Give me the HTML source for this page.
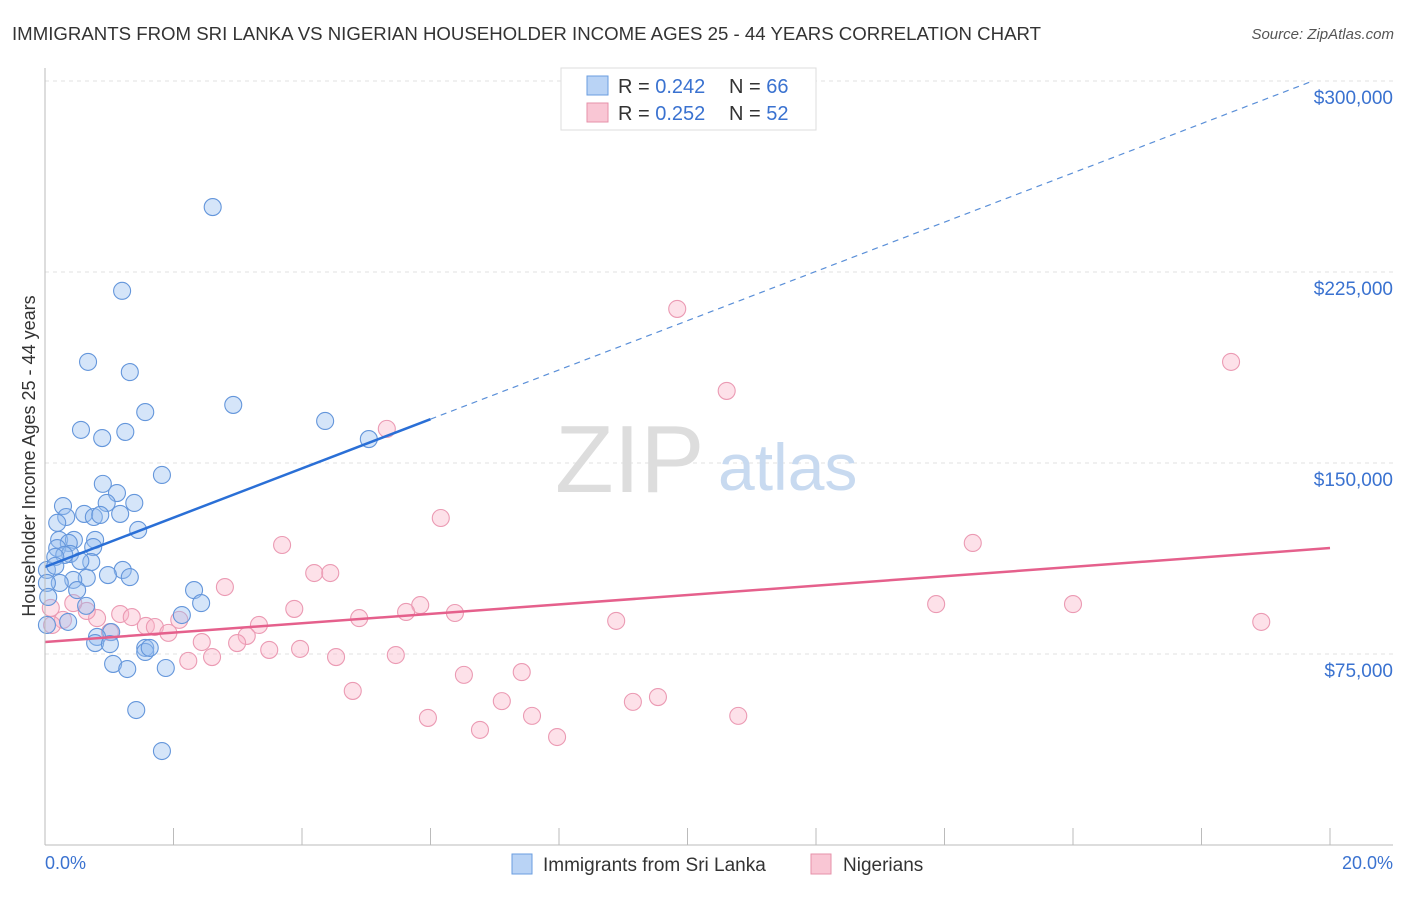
<!DOCTYPE html>
<html><head><meta charset="utf-8"><style>
body{margin:0;background:#fff;font-family:"Liberation Sans",sans-serif;}
svg text{font-family:"Liberation Sans",sans-serif;}
</style></head><body>
<svg width="1406" height="892" viewBox="0 0 1406 892">
<text x="12" y="40" font-size="18" fill="#333" textLength="1029" lengthAdjust="spacingAndGlyphs">IMMIGRANTS FROM SRI LANKA VS NIGERIAN HOUSEHOLDER INCOME AGES 25 - 44 YEARS CORRELATION CHART</text>
<text x="1394" y="39" font-size="15" fill="#555" font-style="italic" text-anchor="end">Source: ZipAtlas.com</text>
<text x="35" y="456" font-size="18" fill="#333" text-anchor="middle" transform="rotate(-90 35 456)">Householder Income Ages 25 - 44 years</text>
<g id="grid"></g>
<text x="555" y="492" font-size="96" fill="#ddd" font-family="Liberation Serif">ZIP</text>
<text x="718" y="490" font-size="66" fill="#c8daf0">atlas</text>
<g id="pts"></g>
<g id="lines"></g>
<line x1="45" y1="68" x2="45" y2="845" stroke="#bbb"/>
<line x1="45" y1="845" x2="1393" y2="845" stroke="#bbb"/>
<text x="45" y="869" font-size="18" fill="#3a72d0">0.0%</text>
<text x="1393" y="869" font-size="18" fill="#3a72d0" text-anchor="end">20.0%</text>
<g>
<rect x="561" y="68" width="255" height="62" fill="#fff" stroke="#ddd"/>
<rect x="587" y="76" width="21" height="19" fill="#b9d3f5" stroke="#6a9ee0"/>
<rect x="587" y="103" width="21" height="19" fill="#f9c6d4" stroke="#e691aa"/>
<text x="618" y="93" font-size="20" fill="#333">R = <tspan fill="#3a72d0">0.242</tspan></text>
<text x="729" y="93" font-size="20" fill="#333">N = <tspan fill="#3a72d0">66</tspan></text>
<text x="618" y="120" font-size="20" fill="#333">R = <tspan fill="#3a72d0">0.252</tspan></text>
<text x="729" y="120" font-size="20" fill="#333">N = <tspan fill="#3a72d0">52</tspan></text>
</g>
<g>
<rect x="512" y="854" width="20" height="20" fill="#b9d3f5" stroke="#6a9ee0"/>
<text x="543" y="871" font-size="19" fill="#333">Immigrants from Sri Lanka</text>
<rect x="811" y="854" width="20" height="20" fill="#f9c6d4" stroke="#e691aa"/>
<text x="843" y="871" font-size="19" fill="#333">Nigerians</text>
</g>
</svg>
<script>
const yTicks=[75000,150000,225000,300000];
const yTickLabels=["$75,000","$150,000","$225,000","$300,000"];
const xTicks=[2,4,6,8,10,12,14,16,18,20];
const blueX=[2.61,1.20,0.67,1.32,2.93,1.56,4.36,0.56,1.25,5.04,0.89,1.82,0.90,1.12,0.28,0.96,1.39,0.61,1.17,0.33,0.76,0.86,0.19,1.45,0.22,0.45,0.78,0.37,0.75,0.19,0.39,0.30,0.16,0.72,0.55,0.03,1.21,0.98,1.32,0.65,0.44,0.23,0.03,0.50,2.32,0.05,2.43,0.64,2.13,0.36,0.03,1.03,0.81,0.78,1.01,1.56,1.56,1.06,1.28,1.88,1.42,1.82,0.16,1.63];
const blueY=[250.5,217.6,189.7,185.7,172.8,170.0,166.5,163.0,162.2,159.4,159.8,145.3,141.8,138.2,133.1,134.3,134.3,130.0,130.0,128.8,128.8,129.6,126.5,123.7,119.8,119.8,119.8,118.6,117.0,116.6,114.3,113.9,113.1,111.1,111.5,108.0,108.0,106.0,105.2,104.9,104.1,102.9,102.9,100.1,100.1,97.4,95.0,93.9,90.3,87.6,86.4,83.6,81.7,79.3,78.9,77.4,75.8,71.1,69.1,69.5,53.0,36.9,109.6,77.4];
const pinkX=[9.84,18.46,10.61,5.32,6.16,3.69,14.44,4.19,4.44,2.80,5.84,5.62,3.88,13.87,16.0,6.38,4.89,1.17,1.35,8.89,18.93,0.81,0.65,0.28,0.09,0.44,1.57,1.71,2.09,1.92,1.01,3.33,3.14,2.44,2.99,3.49,3.97,4.53,5.46,2.60,2.23,7.42,6.52,4.79,9.54,9.15,7.11,5.96,7.58,10.79,6.77,7.97,0.11];
const pinkY=[210.5,189.7,178.3,163.4,128.4,117.8,118.6,106.8,106.8,101.3,94.2,91.5,92.7,94.6,94.6,91.1,89.1,90.7,89.5,88.0,87.6,89.1,91.9,88.4,93.1,95.0,86.0,85.6,88.4,83.3,83.6,86.4,82.1,79.7,79.3,76.6,77.0,73.8,74.6,73.8,72.3,67.9,66.8,60.5,58.1,56.2,56.5,49.9,50.7,50.7,45.2,42.4,86.4];
const blueTrend=[109.2,9.67];
const pinkTrend=[79.7,1.845];
const NS="http://www.w3.org/2000/svg";
const X=v=>45+v*64.25;
const Y=v=>845-v*191/75000;
const Yk=v=>Y(v*1000);
function mk(t,a,p){const e=document.createElementNS(NS,t);for(const k in a)e.setAttribute(k,a[k]);p.appendChild(e);return e;}
const grid=document.getElementById('grid');
yTicks.forEach((t,i)=>{
 const l=mk('line',{x1:45,x2:1393,y1:Y(t),y2:Y(t),stroke:'#e2e2e2','stroke-dasharray':'4,4'},grid);
 
 
 const tx=mk('text',{x:1393,y:Y(t)+23,'font-size':19,fill:'#3a72d0','text-anchor':'end'},grid);
 tx.textContent=yTickLabels[i];
 
 
});
xTicks.forEach(t=>{
 const l=mk('line',{x1:X(t),x2:X(t),y1:828,y2:845,stroke:'#bbb'},grid);
 
 
});
const pts=document.getElementById('pts');
pinkX.forEach((x,i)=>{
 const c=mk('circle',{cx:X(x),cy:Yk(pinkY[i]),r:8.5,fill:'rgba(249,180,200,0.4)',stroke:'#eb9ab3','stroke-width':1.1},pts);
 
 
});
blueX.forEach((x,i)=>{
 const c=mk('circle',{cx:X(x),cy:Yk(blueY[i]),r:8.5,fill:'rgba(150,190,240,0.4)',stroke:'#6496db','stroke-width':1.1},pts);
 
 
});
const lines=document.getElementById('lines');
const bt=x=>blueTrend[0]+blueTrend[1]*x, pt=x=>pinkTrend[0]+pinkTrend[1]*x;
let l1=mk('line',{x1:X(0),y1:Yk(bt(0)),x2:X(6),y2:Yk(bt(6)),stroke:'#2a6fd6','stroke-width':2.5},lines);


let l2=mk('line',{x1:X(6),y1:Yk(bt(6)),x2:X(19.7),y2:Yk(bt(19.7)),stroke:'#5a8fd8','stroke-width':1.2,'stroke-dasharray':'6,5'},lines);


let l3=mk('line',{x1:X(0),y1:Yk(pt(0)),x2:X(20),y2:Yk(pt(20)),stroke:'#e5608c','stroke-width':2.5},lines);


</script>
</body></html>
